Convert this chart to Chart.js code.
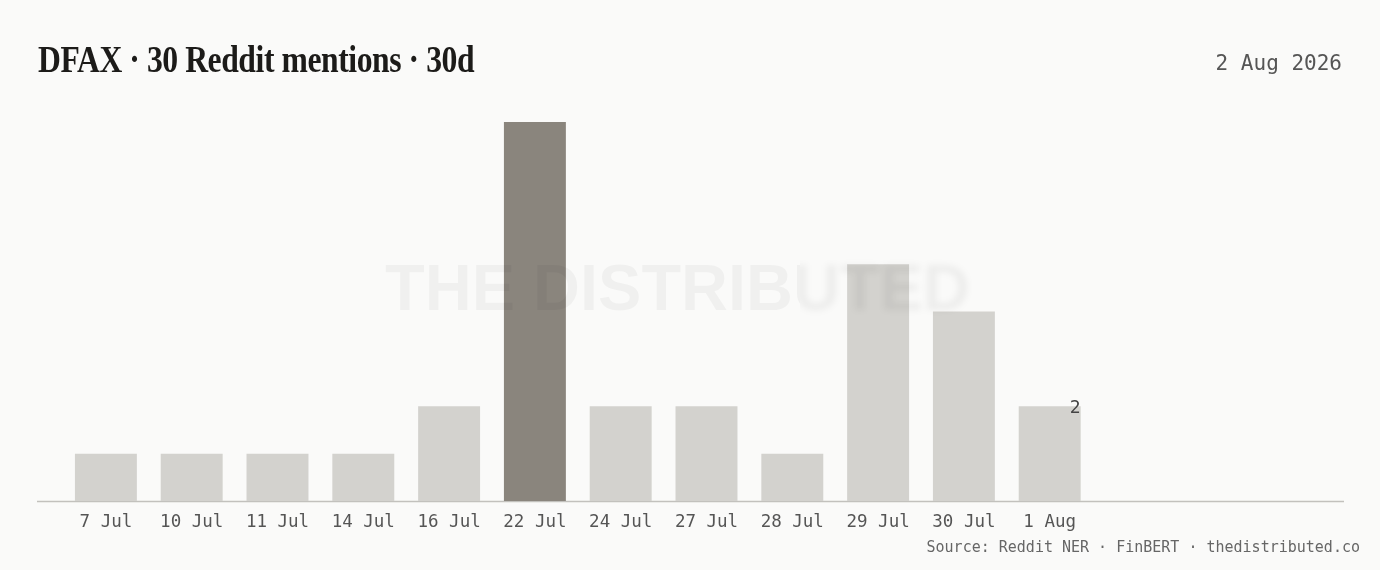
<!DOCTYPE html>
<html>
<head>
<meta charset="utf-8">
<script src="https://cdn.jsdelivr.net/npm/chart.js@4"></script>
<style>
  html, body { margin: 0; padding: 0; background: #fafaf9; }
  #wrap { position: relative; width: 1380px; height: 570px; overflow: hidden; }
  #title {
    position: absolute; left: 38px; top: 38px;
    font-family: "Liberation Serif", "DejaVu Serif", serif; font-weight: bold;
    font-size: 37px; line-height: 44px; color: #1c1b19; letter-spacing: -0.5px;
    white-space: nowrap; transform: scaleX(0.855); transform-origin: left top;
  }
  #date {
    position: absolute; right: 38px; top: 50px;
    font-family: "DejaVu Sans Mono", monospace; font-size: 21px; line-height: 26px; color: #555;
  }
  #source {
    position: absolute; right: 20px; top: 538px;
    font-family: "DejaVu Sans Mono", monospace; font-size: 15px; line-height: 18px; color: #666;
    white-space: nowrap;
  }
  canvas { position: absolute; left: 0; top: 0; }
</style>
</head>
<body>
<div id="wrap">
  <canvas id="chart" width="1380" height="570"></canvas>
  <div id="title">DFAX · 30 Reddit mentions · 30d</div>
  <div id="date">2 Aug 2026</div>
  <div id="source">Source: Reddit NER · FinBERT · thedistributed.co</div>
</div>
<script>
// mentions per day
const days = ["7 Jul", "10 Jul", "11 Jul", "14 Jul", "16 Jul", "22 Jul", "24 Jul", "27 Jul", "28 Jul", "29 Jul", "30 Jul", "1 Aug"];
const mentions = [1, 1, 1, 1, 2, 8, 2, 2, 1, 5, 4, 2];
const emptySlots = 3; // room left on the right of the axis
const peakDay = "22 Jul";

const labels = days.concat(Array(emptySlots).fill(""));
const values = mentions.concat(Array(emptySlots).fill(null));
const colors = labels.map(d => d === peakDay ? "#8a857d" : "#d3d2ce");

const mono = "DejaVu Sans Mono";

// axis line, watermark and last value label
const extras = {
  id: "extras",
  beforeDatasetsDraw(chart) {
    const ctx = chart.ctx;
    const y = chart.chartArea.bottom;
    ctx.save();
    ctx.strokeStyle = "#c2c1bd";
    ctx.lineWidth = 1.5;
    ctx.beginPath();
    ctx.moveTo(37, y + 0.5);
    ctx.lineTo(1344, y + 0.5);
    ctx.stroke();
    ctx.restore();
  },
  afterDatasetsDraw(chart) {
    const ctx = chart.ctx;
    ctx.save();
    const text = "THE DISTRIBUTED";
    ctx.font = "bold 100px 'Liberation Sans', Arial, sans-serif";
    const w = ctx.measureText(text).width;
    const size = 100 * 585 / w;
    ctx.font = "bold " + size + "px 'Liberation Sans', Arial, sans-serif";
    ctx.textBaseline = "alphabetic";
    ctx.fillStyle = "rgba(0,0,0,0.04)";
    ctx.save();
    ctx.beginPath();
    ctx.rect(0, 0, 800, 570);
    ctx.clip();
    ctx.fillText(text, 385, 310);
    ctx.restore();
    ctx.save();
    ctx.beginPath();
    ctx.rect(800, 0, 580, 570);
    ctx.clip();
    ctx.filter = "blur(3px)";
    ctx.fillStyle = "rgba(0,0,0,0.05)";
    ctx.fillText(text, 385, 310);
    ctx.restore();
    ctx.restore();

    // value label on the latest bar
    const meta = chart.getDatasetMeta(0);
    const last = mentions.length - 1;
    const bar = meta.data[last];
    ctx.save();
    ctx.font = "18px '" + mono + "'";
    ctx.fillStyle = "#444";
    ctx.textAlign = "right";
    ctx.textBaseline = "middle";
    ctx.fillText(String(mentions[last]), bar.x + bar.width / 2, bar.y + 2);
    ctx.restore();
  }
};

new Chart(document.getElementById("chart"), {
  type: "bar",
  data: {
    labels: labels,
    datasets: [{
      data: values,
      backgroundColor: colors,
      borderWidth: 0,
      categoryPercentage: 1,
      barPercentage: 0.722
    }]
  },
  options: {
    responsive: false,
    animation: false,
    layout: { padding: { left: 63, right: 30, top: 122, bottom: 0 } },
    plugins: { legend: { display: false }, tooltip: { enabled: false } },
    scales: {
      y: { display: false, min: 0, max: 8 },
      x: {
        grid: { display: false },
        border: { display: false },
        ticks: { color: "#555", font: { family: mono, size: 17.5 }, padding: 3, maxRotation: 0, autoSkip: false },
        afterFit(scale) { scale.height = 69; }
      }
    }
  },
  plugins: [extras]
});
</script>
</body>
</html>
